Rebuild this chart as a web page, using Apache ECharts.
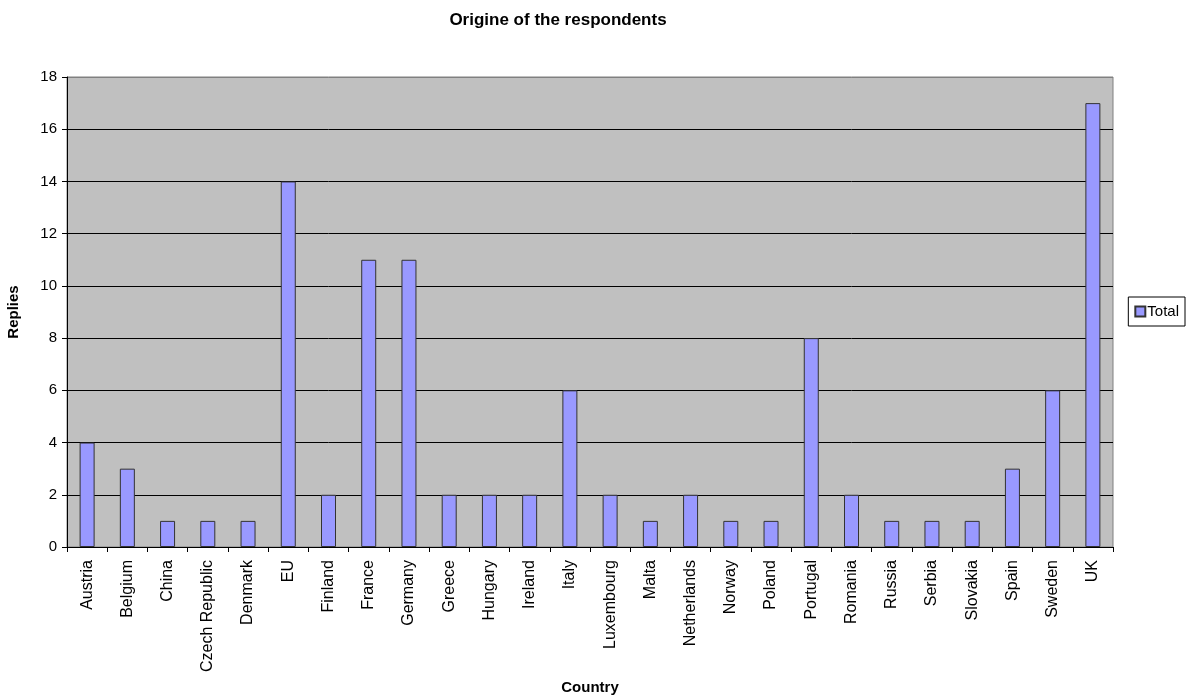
<!DOCTYPE html>
<html>
<head>
<meta charset="utf-8">
<script src="https://cdn.jsdelivr.net/npm/echarts@6/dist/echarts.min.js"></script>
<style>
  html, body { margin: 0; padding: 0; background: #fff; }
  #chart { width: 1189px; height: 697px; }
</style>
</head>
<body>
<div id="chart"></div>
<script>
// countries as listed along the x axis
const countries = [
  'Austria', 'Belgium', 'China', 'Czech Republic', 'Denmark', 'EU', 'Finland',
  'France', 'Germany', 'Greece', 'Hungary', 'Ireland', 'Italy', 'Luxembourg',
  'Malta', 'Netherlands', 'Norway', 'Poland', 'Portugal', 'Romania', 'Russia',
  'Serbia', 'Slovakia', 'Spain', 'Sweden', 'UK'
];
const totals = [4, 3, 1, 1, 1, 14, 2, 11, 11, 2, 2, 2, 6, 2, 1, 2, 1, 1, 8, 2, 1, 1, 1, 3, 6, 17];

const font = 'Liberation Sans, Arial, sans-serif';
const chart = echarts.init(document.getElementById('chart'));

// black gridlines, the top one (at max) is the grey plot border
const gridColors = ['#000', '#000', '#000', '#000', '#000', '#000', '#000', '#000', '#000', '#808080'];

chart.setOption({
  animation: false,
  title: {
    text: 'Origine of the respondents',
    left: 553,
    textAlign: 'center',
    top: 7,
    textStyle: { fontFamily: font, fontSize: 17, fontWeight: 'bold', color: '#000' }
  },
  legend: {
    data: ['Total'],
    right: 4,
    top: 297,
    orient: 'vertical',
    itemWidth: 10,
    itemHeight: 10,
    padding: [7, 6, 7, 6],
    borderColor: '#000',
    borderWidth: 1,
    icon: 'rect',
    textStyle: { fontFamily: font, fontSize: 15, color: '#000', padding: [0, 0, 0, -3] }
  },
  grid: {
    left: 67,
    right: 76,
    top: 77,
    bottom: 150,
    outerBoundsMode: 'none',
    containLabel: false,
    show: true,
    backgroundColor: '#c0c0c0',
    borderColor: '#808080',
    borderWidth: 1
  },
  xAxis: {
    type: 'category',
    data: countries,
    name: 'Country',
    nameLocation: 'middle',
    nameGap: 133,
    nameTextStyle: { fontFamily: font, fontSize: 15, fontWeight: 'bold', color: '#000' },
    axisLine: { lineStyle: { color: '#000', width: 1 } },
    axisTick: { show: true, length: 5, lineStyle: { color: '#000' } },
    axisLabel: {
      rotate: 90,
      interval: 0,
      margin: 13,
      fontFamily: font,
      fontSize: 16,
      color: '#000'
    }
  },
  yAxis: {
    type: 'value',
    min: 0,
    max: 18,
    interval: 2,
    name: 'Replies',
    nameLocation: 'middle',
    nameGap: 46,
    nameTextStyle: { fontFamily: font, fontSize: 15, fontWeight: 'bold', color: '#000' },
    axisLine: { show: true, lineStyle: { color: '#000' } },
    axisTick: { show: true, length: 5, lineStyle: { color: '#000' } },
    axisLabel: { fontFamily: font, fontSize: 15, color: '#000', margin: 10 },
    splitLine: { show: true, lineStyle: { color: gridColors, width: 1 } }
  },
  series: [
    {
      name: 'Total',
      type: 'bar',
      data: totals,
      barWidth: 15,
      itemStyle: { color: '#9999ff', borderColor: '#333', borderWidth: 1 }
    }
  ]
});
</script>
</body>
</html>
